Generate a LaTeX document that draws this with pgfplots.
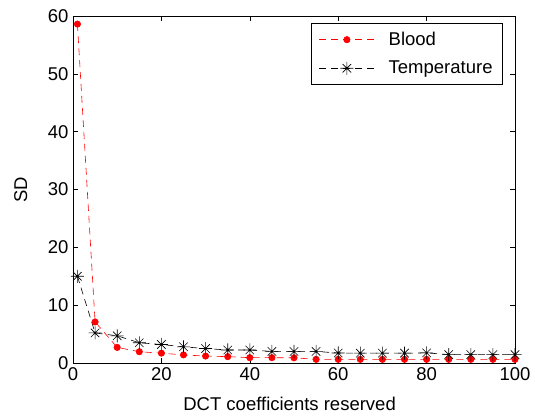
\documentclass[border=0pt]{standalone}
\usepackage{fontspec}
\setmainfont{Liberation Sans}
\usepackage{pgfplots}
\pgfplotsset{compat=1.18}

% MATLAB-like eight-armed asterisk
\pgfdeclareplotmark{ast8}{%
  \pgfpathmoveto{\pgfqpoint{-\pgfplotmarksize}{0pt}}%
  \pgfpathlineto{\pgfqpoint{\pgfplotmarksize}{0pt}}%
  \pgfpathmoveto{\pgfqpoint{0pt}{-\pgfplotmarksize}}%
  \pgfpathlineto{\pgfqpoint{0pt}{\pgfplotmarksize}}%
  \pgfpathmoveto{\pgfqpoint{-0.65\pgfplotmarksize}{-0.65\pgfplotmarksize}}%
  \pgfpathlineto{\pgfqpoint{0.65\pgfplotmarksize}{0.65\pgfplotmarksize}}%
  \pgfpathmoveto{\pgfqpoint{-0.65\pgfplotmarksize}{0.65\pgfplotmarksize}}%
  \pgfpathlineto{\pgfqpoint{0.65\pgfplotmarksize}{-0.65\pgfplotmarksize}}%
  \pgfusepathqstroke}

\pgfplotstableread{
x    blood  temp
1    58.6   15.0
5    7.1    5.2
10   2.7    4.7
15   1.95   3.5
20   1.7    3.2
25   1.4    2.8
30   1.2    2.5
35   1.1    2.25
40   0.92   2.25
45   0.92   2.0
50   0.9    2.0
55   0.63   2.0
60   0.63   1.73
65   0.63   1.7
70   0.63   1.7
75   0.63   1.7
80   0.63   1.75
85   0.63   1.45
90   0.63   1.45
95   0.63   1.45
100  0.63   1.45
}\sddata

\begin{document}
\begin{tikzpicture}
\useasboundingbox (-73pt,-54pt) rectangle (462pt,363pt);
\begin{axis}[
    at={(0pt,0pt)}, anchor=south west,
    scale only axis,
    width=442pt, height=347pt,
    xmin=0, xmax=100, ymin=0, ymax=60,
    xtick={0,20,...,100}, ytick={0,10,...,60},
    tick align=inside,
    major tick length=5pt,
    tick style={black, line width=0.6pt},
    axis line style={line width=0.8pt},
    font=\fontsize{18.5}{21}\selectfont,
    /pgf/number format/assume math mode=true,
    xticklabel style={yshift=-1pt},
    yticklabel style={xshift=-1pt},
    xlabel={DCT coefficients reserved},
    ylabel={SD},
    xlabel style={at={(axis description cs:0.49,-0.138)}, anchor=base},
    ylabel style={at={(axis description cs:-0.118,0.5)}, anchor=center},
    legend style={at={(axis description cs:0.9725,0.98)}, anchor=north east,
        draw=black, line width=0.6pt, inner xsep=8pt, inner ysep=7pt,
        row sep=10pt, font=\fontsize{18.5}{21}\selectfont,
        nodes={inner sep=2pt},
        /tikz/every odd column/.append style={column sep=12pt}},
    legend cell align=left,
    legend image code/.code={
        \draw[mark repeat=2,mark phase=2,#1]
            plot coordinates {(0pt,0pt) (27.5pt,0pt) (55pt,0pt)};
    },
]
\addplot[red, dash pattern=on 7pt off 5pt, line width=0.6pt, mark=*, mark size=3.2pt,
    mark options={solid, fill=red}] table[x=x, y=blood] {\sddata};
\addplot[black, dash pattern=on 7pt off 5pt, line width=0.6pt, mark=ast8, mark size=6.5pt,
    mark options={solid}] table[x=x, y=temp] {\sddata};
\legend{Blood, Temperature}
\end{axis}
\end{tikzpicture}
\end{document}
